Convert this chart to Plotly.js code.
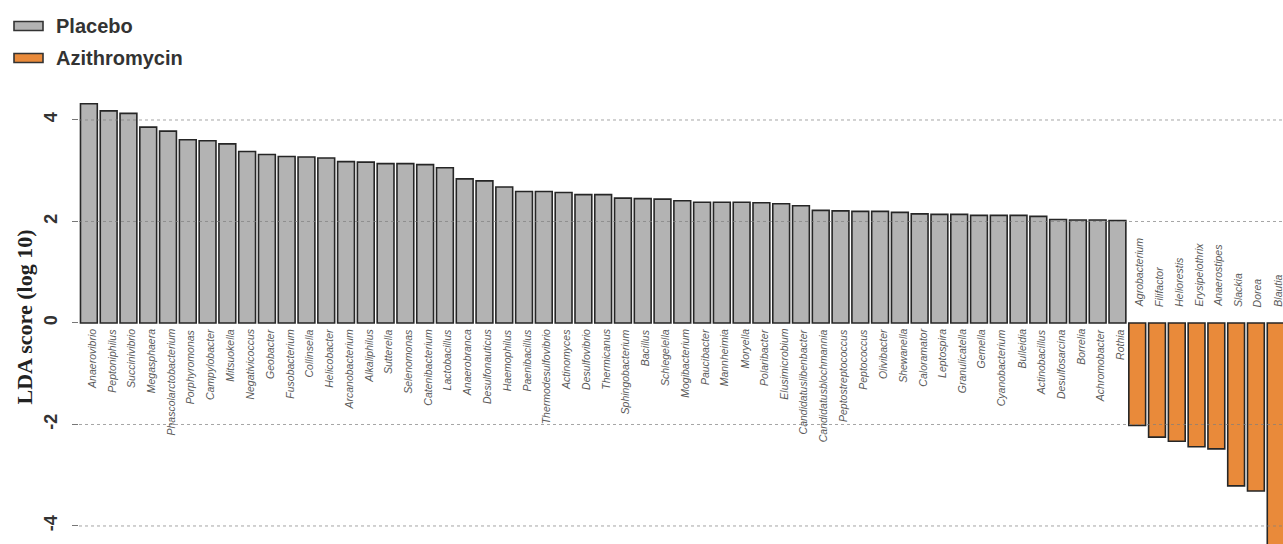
<!DOCTYPE html>
<html>
<head>
<meta charset="utf-8">
<script src="https://cdn.plot.ly/plotly-3.0.1.min.js"></script>
<style>
  html, body { margin: 0; padding: 0; background: #ffffff; }
  #chart { width: 1283px; height: 544px; }
</style>
</head>
<body>
<div id="chart"></div>
<script>
// Genera enriched in each group and their LDA scores (log 10)
const placeboGenera = [
  'Anaerovibrio', 'Peptoniphilus', 'Succinivibrio', 'Megasphaera', 'Phascolarctobacterium',
  'Porphyromonas', 'Campylobacter', 'Mitsuokella', 'Negativicoccus', 'Geobacter',
  'Fusobacterium', 'Collinsella', 'Helicobacter', 'Arcanobacterium', 'Alkaliphilus',
  'Sutterella', 'Selenomonas', 'Catenibacterium', 'Lactobacillus', 'Anaerobranca',
  'Desulfonauticus', 'Haemophilus', 'Paenibacillus', 'Thermodesulfovibrio', 'Actinomyces',
  'Desulfovibrio', 'Thermicanus', 'Sphingobacterium', 'Bacillus', 'Schlegelella',
  'Mogibacterium', 'Paucibacter', 'Mannheimia', 'Moryella', 'Polaribacter',
  'Elusimicrobium', 'Candidatuslibenbacter', 'Candidatusblochmannia', 'Peptostreptococcus', 'Peptococcus',
  'Olivibacter', 'Shewanella', 'Caloramator', 'Leptospira', 'Granulicatella',
  'Gemella', 'Cyanobacterium', 'Bulleidia', 'Actinobacillus', 'Desulfosarcina',
  'Borrelia', 'Achromobacter', 'Rothia'
];
const placeboLDA = [
  4.32, 4.18, 4.13, 3.86, 3.78,
  3.61, 3.59, 3.53, 3.38, 3.32,
  3.28, 3.27, 3.25, 3.18, 3.17,
  3.14, 3.14, 3.12, 3.06, 2.84,
  2.80, 2.68, 2.59, 2.59, 2.57,
  2.53, 2.53, 2.46, 2.45, 2.44,
  2.41, 2.38, 2.38, 2.38, 2.37,
  2.35, 2.31, 2.22, 2.21, 2.20,
  2.20, 2.18, 2.15, 2.14, 2.14,
  2.12, 2.12, 2.12, 2.10, 2.04,
  2.03, 2.03, 2.02
];
const azithroGenera = [
  'Agrobacterium', 'Filifactor', 'Heliorestis', 'Erysipelothrix',
  'Anaerostipes', 'Slackia', 'Dorea', 'Blautia'
];
const azithroLDA = [-2.02, -2.25, -2.33, -2.44, -2.48, -3.21, -3.31, -4.52];

const groupNames = ['Placebo', 'Azithromycin'];
const groupColors = ['#b3b3b3', '#e98a3a'];
const yTicks = [-4, -2, 0, 2, 4];

// Page geometry (px) used for the hand-drawn legend
const W = 1283, H = 544;
const M = { l: 79, r: 0, t: 90, b: 0 };
const toPaperX = px => (px - M.l) / (W - M.l - M.r);
const toPaperY = py => (H - M.b - py) / (H - M.t - M.b);

const allGenera = placeboGenera.concat(azithroGenera);
const outline = { color: '#262626', width: 1.6 };

const traces = [
  {
    type: 'bar', name: groupNames[0],
    x: placeboGenera, y: placeboLDA,
    marker: { color: groupColors[0], line: outline },
    showlegend: false, hoverinfo: 'skip'
  },
  {
    type: 'bar', name: groupNames[1],
    x: azithroGenera, y: azithroLDA,
    marker: { color: groupColors[1], line: outline },
    showlegend: false, hoverinfo: 'skip'
  }
];

const labelFont = { family: 'Liberation Sans, Arial, sans-serif', size: 10.5, color: '#5a5a5a', style: 'italic' };

// Genus labels: below the baseline for positive bars, above it for negative bars
const annotations = [];
placeboGenera.forEach(g => annotations.push({
  x: g, y: 0, xref: 'x', yref: 'y', text: g, textangle: -90,
  showarrow: false, xanchor: 'center', yanchor: 'top', xshift: 3, yshift: -4,
  font: labelFont
}));
azithroGenera.forEach(g => annotations.push({
  x: g, y: 0, xref: 'x', yref: 'y', text: g, textangle: -90,
  showarrow: false, xanchor: 'center', yanchor: 'bottom', xshift: 2, yshift: 14,
  font: labelFont
}));

// Legend entries
const legendFont = { family: 'Liberation Sans, Arial, sans-serif', size: 20, color: '#333333', weight: 'bold' };
const legendRows = [26, 58];
const shapes = [];
groupNames.forEach((name, i) => {
  const cy = legendRows[i];
  shapes.push({
    type: 'rect', xref: 'paper', yref: 'paper',
    x0: toPaperX(14), x1: toPaperX(43), y0: toPaperY(cy - 4.5), y1: toPaperY(cy + 4.5),
    fillcolor: groupColors[i], line: { color: '#333333', width: 1.6 }
  });
  annotations.push({
    xref: 'paper', yref: 'paper', x: toPaperX(54), y: toPaperY(cy),
    xanchor: 'left', yanchor: 'middle', showarrow: false,
    text: name, font: legendFont
  });
});

// Dotted reference lines at the non-zero ticks
yTicks.filter(v => v !== 0).forEach(v => shapes.push({
  type: 'line', xref: 'paper', yref: 'y', x0: 0, x1: 1, y0: v, y1: v,
  line: { color: '#808080', width: 1, dash: 'dot' }, opacity: 0.7, layer: 'above'
}));

const layout = {
  width: W, height: H,
  margin: M,
  paper_bgcolor: '#ffffff', plot_bgcolor: '#ffffff',
  barmode: 'overlay', bargap: 0.15,
  showlegend: false,
  xaxis: {
    type: 'category', categoryorder: 'array', categoryarray: allGenera,
    range: [-0.5, 60.37], showticklabels: false, ticks: '',
    showgrid: false, zeroline: false, showline: false
  },
  yaxis: {
    range: [-4.355, 4.591],
    tickvals: yTicks, ticktext: yTicks.map(String),
    tickangle: -90, ticks: 'outside', ticklen: 6, tickwidth: 1, tickcolor: '#777777',
    ticklabelstandoff: 8,
    tickfont: { family: 'Liberation Sans, Arial, sans-serif', size: 18, color: '#333333', weight: 'bold' },
    showgrid: false, zeroline: false, showline: false,
    title: {
      text: 'LDA score (log 10)', standoff: 2,
      font: { family: 'Liberation Serif, Times New Roman, serif', size: 22, color: '#222222', weight: 'bold' }
    }
  },
  shapes: shapes,
  annotations: annotations
};

Plotly.newPlot('chart', traces, layout, { staticPlot: true, displayModeBar: false });
</script>
</body>
</html>
